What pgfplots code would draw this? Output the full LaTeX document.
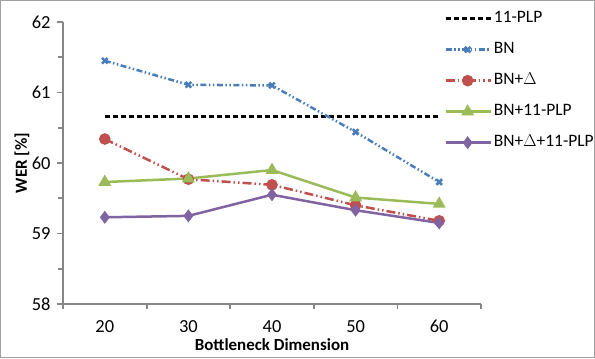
\documentclass[border=0pt]{standalone}
\usepackage{fontspec}
\setmainfont{Carlito}
\usepackage{pgfplots}
\pgfplotsset{compat=1.18}
\definecolor{cblue}{RGB}{74,126,187}
\definecolor{cred}{RGB}{192,80,77}
\definecolor{cgreen}{RGB}{155,187,89}
\definecolor{cpurple}{RGB}{128,100,162}
\definecolor{axgray}{RGB}{134,134,134}
\definecolor{framegray}{RGB}{160,160,160}
\begin{document}
\begin{tikzpicture}[x=1bp,y=1bp]
\draw[framegray, line width=1.2bp] (0.6,0.6) rectangle (594.4,357.4);
\begin{axis}[
  at={(63bp,54bp)}, anchor=south west,
  scale only axis, width=418bp, height=282bp,
  xmin=-0.5, xmax=4.5, ymin=58, ymax=62,
  axis x line*=bottom, axis y line*=left,
  axis line style={axgray, line width=1.8bp},
  xtick={0,...,4}, xticklabels={20,30,40,50,60},
  major x tick style={draw=none},
  minor xtick={-0.5,0.5,...,4.5},
  ytick={58,...,62}, minor ytick={58.5,59.5,60.5,61.5},
  tick align=outside,
  every tick/.style={axgray, line width=1.8bp},
  major tick length=6bp, minor tick length=5bp,
  /pgf/number format/assume math mode=true,
  ticklabel style={font=\fontsize{18.5}{22}\selectfont},
  xticklabel style={yshift=-7bp},
  yticklabel style={xshift=-3bp},
  xlabel={\textbf{Bottleneck Dimension}},
  ylabel={\textbf{WER [\%]}},
  label style={font=\fontsize{17}{20}\selectfont},
  xlabel style={at={(axis description cs:0.5,-0.145)}, anchor=center},
  ylabel style={at={(axis description cs:-0.098,0.5)}, anchor=center},
  legend style={at={(axis description cs:0.912,1.048)}, anchor=north west,
    draw=none, fill=none, font=\fontsize{17.5}{21}\selectfont,
    row sep=11bp, inner sep=0pt, nodes={inner sep=2bp, text height=12bp, text depth=4bp}},
  legend cell align=left,
  legend image code/.code={\draw[mark repeat=2,mark phase=2,#1] plot coordinates {(0bp,0bp) (22bp,0bp) (45bp,0bp)};},
  clip=false,
]
\addplot[black, line width=2.5bp, dash pattern=on 5bp off 3bp] coordinates {(0,60.66) (1,60.66) (2,60.66) (3,60.66) (4,60.66)};
\addlegendentry{11-PLP}
\addplot[cblue, line width=2.5bp, dash pattern=on 6bp off 2.5bp on 1.5bp off 2.5bp on 1.5bp off 2.5bp, mark=x, mark size=4bp, mark options={solid, line width=2.5bp}] coordinates {(0,61.45) (1,61.11) (2,61.10) (3,60.44) (4,59.73)};
\addlegendentry{BN}
\addplot[cred, line width=2.5bp, dash pattern=on 9bp off 3bp on 1.5bp off 3bp on 1.5bp off 3bp, mark=*, mark size=4.5bp, mark options={solid}] coordinates {(0,60.34) (1,59.77) (2,59.69) (3,59.40) (4,59.18)};
\addlegendentry{BN+$\Delta$}
\addplot[cgreen, line width=2.5bp, mark=triangle*, mark size=5bp, mark options={solid}] coordinates {(0,59.73) (1,59.78) (2,59.90) (3,59.51) (4,59.42)};
\addlegendentry{BN+11-PLP}
\addplot[cpurple, line width=2.5bp, mark=diamond*, mark size=4.5bp, mark options={solid}] coordinates {(0,59.23) (1,59.25) (2,59.55) (3,59.33) (4,59.15)};
\addlegendentry{BN+$\Delta$+11-PLP}
\end{axis}
\pgfresetboundingbox
\path (0,0) rectangle (595,358);
\end{tikzpicture}
\end{document}
